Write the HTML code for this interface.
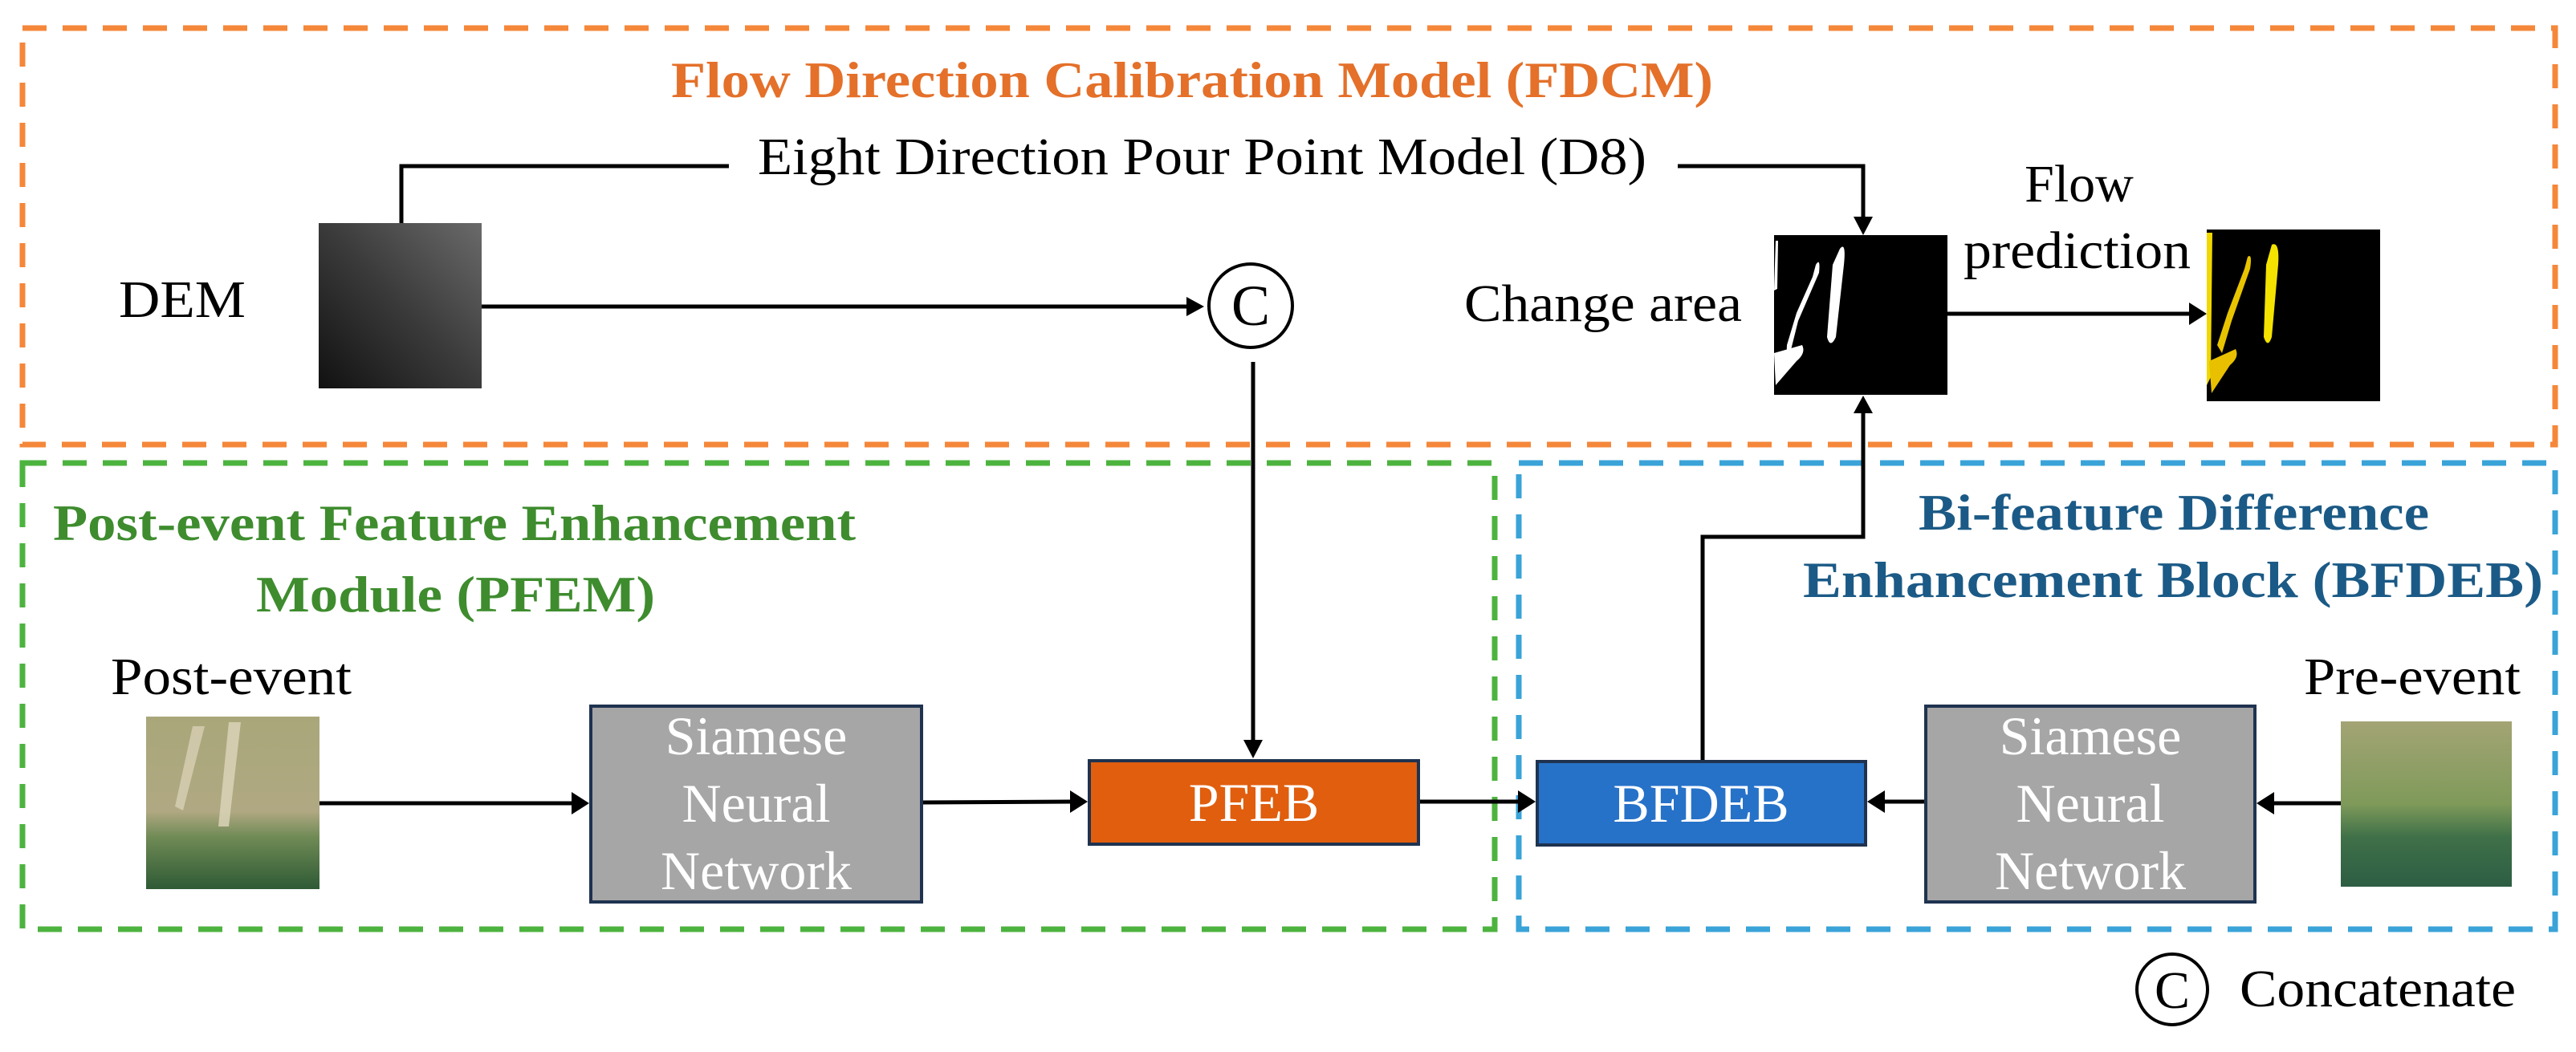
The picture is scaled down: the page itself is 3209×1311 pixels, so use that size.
<!DOCTYPE html>
<html><head><meta charset="utf-8"><style>
html,body{margin:0;padding:0;background:#fff;}
svg{display:block;}
text{font-family:"Liberation Serif",serif;}
</style></head><body>
<svg width="3209" height="1311" viewBox="0 0 3209 1311" xmlns="http://www.w3.org/2000/svg">
<defs>
<linearGradient id="dem" x1="0" y1="1" x2="1" y2="0">
<stop offset="0" stop-color="#111"/><stop offset="0.5" stop-color="#3a3a3a"/><stop offset="1" stop-color="#6a6a6a"/>
</linearGradient>
<linearGradient id="post" x1="0" y1="0" x2="0" y2="1">
<stop offset="0" stop-color="#a9a77a"/><stop offset="0.55" stop-color="#b0a882"/><stop offset="0.7" stop-color="#6f8a55"/><stop offset="1" stop-color="#2f5a35"/>
</linearGradient>
<linearGradient id="pre" x1="0" y1="0" x2="0" y2="1">
<stop offset="0" stop-color="#a3a474"/><stop offset="0.5" stop-color="#7f9a5a"/><stop offset="0.7" stop-color="#3f7048"/><stop offset="1" stop-color="#2d5e44"/>
</linearGradient>
</defs>

<rect x="28" y="35" width="3155" height="519" fill="none" stroke="#F5873A" stroke-width="7" stroke-dasharray="30 20"/>
<rect x="28" y="577" width="1834" height="581" fill="none" stroke="#4DB33F" stroke-width="7" stroke-dasharray="30 20"/>
<rect x="1892" y="577" width="1291" height="581" fill="none" stroke="#3AA3D8" stroke-width="7" stroke-dasharray="30 20"/>

<text x="836" y="121" font-size="64" font-weight="bold" fill="#E4702A" textLength="1298" lengthAdjust="spacingAndGlyphs">Flow Direction Calibration Model (FDCM)</text>
<text x="66" y="673" font-size="64" font-weight="bold" fill="#3E8C2E" textLength="1000" lengthAdjust="spacingAndGlyphs">Post-event Feature Enhancement</text>
<text x="319" y="762" font-size="64" font-weight="bold" fill="#3E8C2E" textLength="497" lengthAdjust="spacingAndGlyphs">Module (PFEM)</text>
<text x="2390" y="660" font-size="64" font-weight="bold" fill="#1B5A86" textLength="636" lengthAdjust="spacingAndGlyphs">Bi-feature Difference</text>
<text x="2246" y="744" font-size="64" font-weight="bold" fill="#1B5A86" textLength="922" lengthAdjust="spacingAndGlyphs">Enhancement Block  (BFDEB)</text>

<text x="944" y="217" font-size="66" fill="#000" textLength="1107" lengthAdjust="spacingAndGlyphs">Eight Direction Pour Point Model (D8)</text>
<polyline points="500,278 500,207 908,207" fill="none" stroke="#000" stroke-width="5"/>
<polyline points="2090,207 2321,207 2321,275" fill="none" stroke="#000" stroke-width="5"/>
<polygon points="2309,270 2333,270 2321,293" fill="#000"/>

<text x="148" y="395" font-size="66" fill="#000" textLength="158" lengthAdjust="spacingAndGlyphs">DEM</text>
<rect x="397" y="278" width="203" height="206" fill="url(#dem)"/>
<line x1="600" y1="382" x2="1482" y2="382" stroke="#000" stroke-width="5"/>
<polygon points="1478,370 1478,394 1500,382" fill="#000"/>
<circle cx="1558" cy="381" r="52" fill="#fff" stroke="#000" stroke-width="4"/>
<text x="1558" y="405" font-size="72" text-anchor="middle" fill="#000">C</text>
<line x1="1561" y1="451" x2="1561" y2="926" stroke="#000" stroke-width="5"/>
<polygon points="1549,922 1573,922 1561,945" fill="#000"/>

<text x="1824" y="400" font-size="66" fill="#000" textLength="346" lengthAdjust="spacingAndGlyphs">Change area</text>
<rect x="2210" y="293" width="216" height="199" fill="#000"/>
<path d="M2292 310 Q2300 300 2297 330 L2287 420 Q2280 435 2276 420 L2283 330 Z" fill="#fff"/>
<path d="M2262 330 Q2268 320 2266 340 L2240 400 L2230 440 Q2225 450 2226 430 L2238 390 L2258 345 Z" fill="#fff"/>
<path d="M2210 440 L2245 430 Q2250 440 2238 450 L2212 480 Z" fill="#fff"/>
<path d="M2212 300 L2215 300 L2214 360 L2210 362 Z" fill="#fff"/>
<line x1="2426" y1="391" x2="2730" y2="391" stroke="#000" stroke-width="5"/>
<polygon points="2727,377 2727,405 2749,391" fill="#000"/>
<text x="2590" y="251" font-size="66" text-anchor="middle" fill="#000">Flow</text>
<text x="2446" y="334" font-size="66" fill="#000" textLength="283" lengthAdjust="spacingAndGlyphs">prediction</text>
<rect x="2749" y="286" width="216" height="214" fill="#000"/>
<path d="M2830 305 Q2840 300 2838 330 L2830 420 Q2825 435 2820 420 L2823 330 Z" fill="#f4e200"/>
<path d="M2800 320 Q2806 315 2803 335 L2780 400 L2768 440 L2762 430 L2775 390 L2796 335 Z" fill="#e8c400"/>
<path d="M2749 290 L2756 290 L2754 470 L2749 480 Z" fill="#f0d800"/>
<path d="M2752 450 L2785 435 Q2790 445 2778 455 L2755 490 Z" fill="#e8c000"/>

<text x="138" y="865" font-size="66" fill="#000" textLength="300" lengthAdjust="spacingAndGlyphs">Post-event</text>
<rect x="182" y="893" width="216" height="215" fill="url(#post)"/>
<path d="M240 905 L255 905 L228 1010 L218 1005 Z" fill="#d8d0b4" opacity="0.8"/>
<path d="M285 900 L300 900 L285 1030 L272 1030 Z" fill="#ddd6bc" opacity="0.8"/>
<line x1="398" y1="1001" x2="716" y2="1001" stroke="#000" stroke-width="5"/>
<polygon points="712,987 712,1015 734,1001" fill="#000"/>

<rect x="736" y="880" width="412" height="244" fill="#A6A6A6" stroke="#1F3350" stroke-width="4"/>
<text x="942" y="940" font-size="68" fill="#fff" text-anchor="middle">Siamese</text>
<text x="942" y="1024" font-size="68" fill="#fff" text-anchor="middle">Neural</text>
<text x="942" y="1108" font-size="68" fill="#fff" text-anchor="middle">Network</text>
<line x1="1150" y1="1000" x2="1337" y2="999" stroke="#000" stroke-width="5"/>
<polygon points="1333,985 1333,1013 1355,999" fill="#000"/>

<rect x="1357" y="948" width="410" height="104" fill="#E05E0E" stroke="#1F3350" stroke-width="4"/>
<text x="1562" y="1023" font-size="68" fill="#fff" text-anchor="middle">PFEB</text>
<line x1="1769" y1="999" x2="1895" y2="999" stroke="#000" stroke-width="5"/>
<polygon points="1891,985 1891,1013 1913,999" fill="#000"/>

<rect x="1915" y="949" width="409" height="104" fill="#2672C8" stroke="#1F3350" stroke-width="4"/>
<text x="2119" y="1024" font-size="68" fill="#fff" text-anchor="middle">BFDEB</text>
<polyline points="2121,947 2121,669 2321,669 2321,512" fill="none" stroke="#000" stroke-width="5"/>
<polygon points="2309,515 2333,515 2321,493" fill="#000"/>

<rect x="2399" y="880" width="410" height="244" fill="#A6A6A6" stroke="#1F3350" stroke-width="4"/>
<text x="2604" y="940" font-size="68" fill="#fff" text-anchor="middle">Siamese</text>
<text x="2604" y="1024" font-size="68" fill="#fff" text-anchor="middle">Neural</text>
<text x="2604" y="1108" font-size="68" fill="#fff" text-anchor="middle">Network</text>
<line x1="2397" y1="999" x2="2344" y2="999" stroke="#000" stroke-width="5"/>
<polygon points="2348,985 2348,1013 2326,999" fill="#000"/>

<text x="2870" y="865" font-size="66" fill="#000" textLength="270" lengthAdjust="spacingAndGlyphs">Pre-event</text>
<rect x="2916" y="899" width="213" height="206" fill="url(#pre)"/>
<line x1="2916" y1="1001" x2="2830" y2="1001" stroke="#000" stroke-width="5"/>
<polygon points="2833,987 2833,1015 2811,1001" fill="#000"/>

<circle cx="2706" cy="1233" r="44" fill="#fff" stroke="#000" stroke-width="4"/>
<text x="2706" y="1256" font-size="66" text-anchor="middle" fill="#000">C</text>
<text x="2790" y="1254" font-size="66" fill="#000" textLength="344" lengthAdjust="spacingAndGlyphs">Concatenate</text>
</svg>
</body></html>
